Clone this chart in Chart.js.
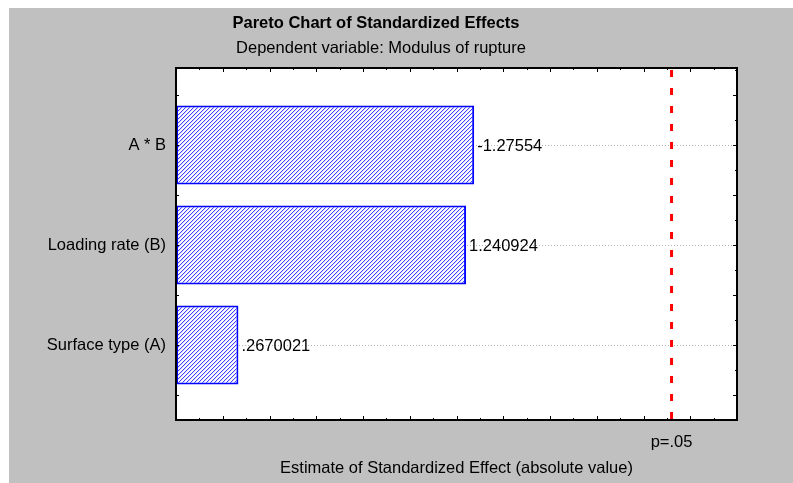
<!DOCTYPE html>
<html>
<head>
    <meta charset="UTF-8" />
    <title>Pareto Chart of Standardized Effects</title>
    <script src="https://cdn.jsdelivr.net/npm/chart.js@4"></script>
    <style>
        body { margin: 0; background: #ffffff; }
        #box { position: absolute; left: 9px; top: 8px; width: 784px; height: 475px; background: #c0c0c0; }
    </style>
</head>
<body>
    <div id="box"><canvas id="chart" width="784" height="475"></canvas></div>

    <script>
        // chart data
        const effectNames = ['A * B', 'Loading rate (B)', 'Surface type (A)'];
        const effectValues = [-1.27554, 1.240924, 0.2670021];
        const effectLabels = ['-1.27554', '1.240924', '.2670021'];
        const pCrit = 2.12;
        const pLabel = 'p=.05';
        const titleText = 'Pareto Chart of Standardized Effects';
        const subtitleText = 'Dependent variable: Modulus of rupture';
        const xTitle = 'Estimate of Standardized Effect (absolute value)';

        const FONT = 'Liberation Sans, Arial, sans-serif';
        const FS = 16.5;

        // hatch fill ///
        function makeHatch() {
            const c = document.createElement('canvas');
            c.width = 4; c.height = 4;
            const g = c.getContext('2d');
            g.fillStyle = '#ffffff';
            g.fillRect(0, 0, 4, 4);
            g.fillStyle = '#dcdcff';
            for (let i = 0; i < 4; i++) {
                g.fillRect((i + 1) % 4, 3 - i, 1, 1);
            }
            g.fillStyle = '#4040ff';
            for (let i = 0; i < 4; i++) {
                g.fillRect(i, 3 - i, 1, 1);
            }
            return g.createPattern(c, 'repeat');
        }

        const ctx = document.getElementById('chart');
        const hatch = makeHatch();

        const barData = effectValues.map((v, i) => ({ x: Math.abs(v), y: i }));

        // white plot area
        const plotBg = {
            id: 'plotBg',
            beforeDraw(chart) {
                const a = chart.chartArea;
                chart.ctx.save();
                chart.ctx.fillStyle = '#ffffff';
                chart.ctx.fillRect(a.left, a.top, a.right - a.left, a.bottom - a.top);
                chart.ctx.restore();
            }
        };

        // titles, frame, tick marks, p line, value labels
        const extras = {
            id: 'extras',
            afterDatasetsDraw(chart) {
                const c = chart.ctx;
                const a = chart.chartArea;
                const xs = chart.scales.x;
                const ys = chart.scales.y;
                c.save();

                // tick marks pointing inward
                c.strokeStyle = '#000000';
                c.lineWidth = 1;
                for (let k = 0; k <= 24; k++) {
                    const px = Math.round(xs.getPixelForValue(k / 10)) + 0.5;
                    const len = k % 2 === 0 ? 4 : 2;
                    c.beginPath();
                    c.moveTo(px, a.bottom); c.lineTo(px, a.bottom - len);
                    c.moveTo(px, a.top); c.lineTo(px, a.top + len);
                    c.stroke();
                }
                for (let k = -3; k <= 11; k++) {
                    const v = k / 4;
                    if (v < ys.min || v > ys.max) continue;
                    const py = Math.round(ys.getPixelForValue(v)) + 0.5;
                    c.beginPath();
                    c.moveTo(a.right, py); c.lineTo(a.right - (k % 2 === 0 ? 4 : 2), py);
                    if (k % 2 === 0) { c.moveTo(a.left, py); c.lineTo(a.left + 3, py); }
                    c.stroke();
                }

                // p=.05 line
                const lx = xs.getPixelForValue(pCrit);
                c.strokeStyle = '#ff0000';
                c.lineWidth = 3;
                c.setLineDash([7, 11]);
                c.beginPath();
                c.moveTo(lx, a.top + 2);
                c.lineTo(lx, a.bottom);
                c.stroke();
                c.setLineDash([]);

                // frame
                c.strokeStyle = '#000000';
                c.lineWidth = 2;
                c.strokeRect(a.left, a.top, a.right - a.left, a.bottom - a.top);

                // value labels
                c.fillStyle = '#000000';
                c.font = FS + 'px ' + FONT;
                c.textAlign = 'left';
                c.textBaseline = 'middle';
                barData.forEach((d, i) => {
                    c.fillText(effectLabels[i], xs.getPixelForValue(d.x) + 3, ys.getPixelForValue(d.y) + 1);
                });

                // titles
                c.textAlign = 'center';
                c.font = 'bold ' + FS + 'px ' + FONT;
                c.fillText(titleText, 367, 15);
                c.font = FS + 'px ' + FONT;
                c.fillText(subtitleText, 372, 40);
                c.restore();
            }
        };

        new Chart(ctx, {
            type: 'bar',
            data: {
                datasets: [{
                    data: barData,
                    backgroundColor: hatch,
                    borderColor: '#0000ff',
                    borderWidth: 2,
                    borderSkipped: false,
                    barPercentage: 0.79,
                    categoryPercentage: 1.0
                }]
            },
            plugins: [plotBg, extras],
            options: {
                indexAxis: 'y',
                responsive: false,
                animation: false,
                layout: { padding: { top: 60, right: 56, left: 0, bottom: 0 } },
                plugins: {
                    legend: { display: false },
                    tooltip: { enabled: false },
                    title: { display: false }
                },
                scales: {
                    x: {
                        type: 'linear',
                        min: 0,
                        max: 2.4,
                        grid: { display: false },
                        border: { display: false },
                        afterBuildTicks: (s) => { s.ticks = [{ value: pCrit }]; },
                        afterFit: (s) => { s.height = 63; },
                        ticks: {
                            autoSkip: false,
                            maxRotation: 0,
                            padding: 5,
                            color: '#000000',
                            font: { family: FONT, size: FS },
                            callback: () => pLabel
                        },
                        title: {
                            display: true,
                            text: xTitle,
                            color: '#000000',
                            font: { family: FONT, size: FS },
                            padding: { top: 0, bottom: 5 }
                        }
                    },
                    y: {
                        type: 'linear',
                        reverse: true,
                        offset: false,
                        min: -0.77,
                        max: 2.75,
                        afterBuildTicks: (s) => { s.ticks = effectNames.map((n, i) => ({ value: i })); },
                        afterFit: (s) => { s.width = 167; },
                        grid: {
                            offset: false,
                            color: '#b4b4b4',
                            lineWidth: 1,
                            drawTicks: false
                        },
                        border: { display: false, dash: [1, 2] },
                        ticks: {
                            autoSkip: false,
                            padding: 10,
                            color: '#000000',
                            font: { family: FONT, size: FS },
                            callback: (v) => effectNames[v]
                        }
                    }
                }
            }
        });
    </script>
</body>
</html>
